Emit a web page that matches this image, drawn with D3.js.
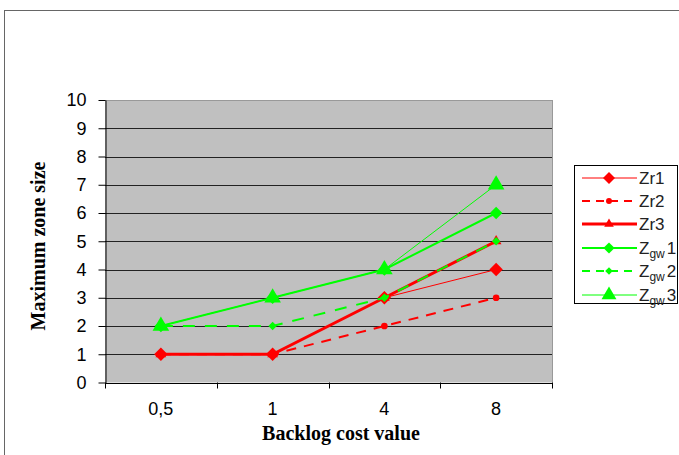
<!DOCTYPE html>
<html>
<head>
<meta charset="utf-8">
<script src="https://cdn.jsdelivr.net/npm/d3@7"></script>
<style>
  body { margin: 0; background: #fff; }
  svg { display: block; }
</style>
</head>
<body>
<div id="chart"></div>
<script>
// Data
const categories = ["0,5", "1", "4", "8"];
const yTicks = [0, 1, 2, 3, 4, 5, 6, 7, 8, 9, 10];
const zr1 = [1, 1, 3, 4];
const zr2 = [1, 1, 2, 3];
const zr3 = [1, 1, 3, 5];
const zgw1 = [2, 3, 4, 6];
const zgw2 = [2, 2, 3, 5];
const zgw3 = [2, 3, 4, 7];

const series = [
  { name: "Zr1", values: zr1, color: "#ff0000", width: 1, dash: null, marker: "diamond", size: 80 },
  { name: "Zr2", values: zr2, color: "#ff0000", width: 2, dash: "10,8", marker: "circle", size: 35 },
  { name: "Zr3", values: zr3, color: "#ff0000", width: 3, dash: null, marker: "triangle", size: 50 },
  { name: "Zgw1", values: zgw1, color: "#00ff00", width: 2, dash: null, marker: "diamond", size: 70 },
  { name: "Zgw2", values: zgw2, color: "#00ff00", width: 2, dash: "12,10", marker: "diamond", size: 32 },
  { name: "Zgw3", values: zgw3, color: "#00ff00", width: 1, dash: null, marker: "triangle", size: 120 }
];

const W = 679, H = 455;
const plot = { left: 105, right: 552, top: 100, bottom: 382.5 };

const svg = d3.select("#chart").append("svg").attr("width", W).attr("height", H);

// outer chart border
svg.append("rect")
  .attr("x", 4.5).attr("y", 10.5)
  .attr("width", W + 10).attr("height", H + 10)
  .attr("fill", "#fff").attr("stroke", "#666").attr("stroke-width", 1);

const x = d3.scaleBand().domain(categories).range([plot.left, plot.right]);
const y = d3.scaleLinear().domain([0, 10]).range([plot.bottom, plot.top]);
const cx = (c) => x(c) + x.bandwidth() / 2;

// plot background
svg.append("rect")
  .attr("x", plot.left).attr("y", plot.top)
  .attr("width", plot.right - plot.left).attr("height", plot.bottom - plot.top)
  .attr("fill", "#c0c0c0");

// horizontal gridlines
svg.append("g")
  .selectAll("line")
  .data(yTicks.filter((d) => d > 0))
  .join("line")
  .attr("x1", plot.left).attr("x2", plot.right)
  .attr("y1", (d) => Math.round(y(d)) + 0.5).attr("y2", (d) => Math.round(y(d)) + 0.5)
  .attr("stroke", (d) => (d === 10 ? "#999" : "#222"))
  .attr("stroke-width", 1);

// right border of plot
svg.append("line")
  .attr("x1", plot.right + 0.5).attr("x2", plot.right + 0.5)
  .attr("y1", plot.top).attr("y2", plot.bottom)
  .attr("stroke", "#999");

// y axis
const yAxis = svg.append("g")
  .attr("transform", `translate(${plot.left + 0.5},0)`)
  .call(d3.axisLeft(y).tickValues(yTicks).tickSize(7).tickPadding(12).tickSizeOuter(0));
yAxis.select(".domain").attr("stroke", "#000");
yAxis.selectAll(".tick line").attr("stroke", "#000");
yAxis.selectAll("text")
  .attr("font-family", "Liberation Sans, Arial, sans-serif")
  .attr("font-size", 18).attr("fill", "#000");

// x axis line and ticks at band boundaries
const xg = svg.append("g");
xg.append("line")
  .attr("x1", plot.left).attr("x2", plot.right + 1)
  .attr("y1", Math.round(plot.bottom) + 0.5).attr("y2", Math.round(plot.bottom) + 0.5)
  .attr("stroke", "#000");
const edges = categories.map((c) => x(c)).concat([x(categories[categories.length - 1]) + x.bandwidth()]);
xg.selectAll(".xtick")
  .data(edges)
  .join("line")
  .attr("class", "xtick")
  .attr("x1", (d) => Math.round(d) + 0.5).attr("x2", (d) => Math.round(d) + 0.5)
  .attr("y1", plot.bottom).attr("y2", plot.bottom + 6)
  .attr("stroke", "#000");
xg.selectAll(".xlabel")
  .data(categories)
  .join("text")
  .attr("class", "xlabel")
  .attr("x", (d) => cx(d))
  .attr("y", 415)
  .attr("text-anchor", "middle")
  .attr("font-family", "Liberation Sans, Arial, sans-serif")
  .attr("font-size", 18)
  .text((d) => d);

// axis titles
svg.append("text")
  .attr("x", 341).attr("y", 440)
  .attr("text-anchor", "middle")
  .attr("font-family", "Liberation Serif, Times New Roman, serif")
  .attr("font-weight", "bold").attr("font-size", 20)
  .text("Backlog cost value");

svg.append("text")
  .attr("transform", "translate(45,246) rotate(-90)")
  .attr("text-anchor", "middle")
  .attr("font-family", "Liberation Serif, Times New Roman, serif")
  .attr("font-weight", "bold").attr("font-size", 20)
  .text("Maximum zone size");

// markers
const symbolType = { diamond: d3.symbolDiamond2, circle: d3.symbolCircle, triangle: d3.symbolTriangle };
function drawMarker(g, s, px, py, size) {
  if (s.marker === "diamond") {
    const r = Math.sqrt(size) * 0.75;
    g.append("path")
      .attr("d", `M${px},${py - r}L${px + r},${py}L${px},${py + r}L${px - r},${py}Z`)
      .attr("fill", s.color);
  } else {
    g.append("path")
      .attr("transform", `translate(${px},${py})`)
      .attr("d", d3.symbol().type(symbolType[s.marker]).size(size)())
      .attr("fill", s.color);
  }
}

// series lines
const line = d3.line().x((d, i) => cx(categories[i])).y((d) => y(d));
series.forEach((s) => {
  const g = svg.append("g");
  g.append("path")
    .datum(s.values)
    .attr("d", line)
    .attr("fill", "none")
    .attr("stroke", s.color)
    .attr("stroke-width", s.width)
    .attr("stroke-dasharray", s.dash);
  s.values.forEach((v, i) => drawMarker(g, s, cx(categories[i]), y(v), s.size));
});

// legend
const lg = svg.append("g");
lg.append("rect")
  .attr("x", 574.5).attr("y", 165.5).attr("width", 103).attr("height", 138)
  .attr("fill", "#fff").attr("stroke", "#000");
const legendY = [178, 201, 224, 248, 271, 295];
series.forEach((s, i) => {
  const ly = legendY[i];
  lg.append("line")
    .attr("x1", 582).attr("x2", 637).attr("y1", ly).attr("y2", ly)
    .attr("stroke", s.color).attr("stroke-width", s.width)
    .attr("stroke-dasharray", s.dash ? "8,6" : null);
  drawMarker(lg, s, 609, ly, s.size * 0.8);
  const t = lg.append("text")
    .attr("x", 639).attr("y", ly + 6)
    .attr("font-family", "Liberation Sans, Arial, sans-serif")
    .attr("font-size", 17)
    .attr("fill", "#222");
  if (s.name.startsWith("Zgw")) {
    t.append("tspan").text("Z");
    t.append("tspan").attr("font-size", 12).attr("dy", 4).text("gw");
    t.append("tspan").attr("dy", -4).attr("dx", 2).text(s.name.slice(3));
  } else {
    t.text(s.name);
  }
});
</script>
</body>
</html>
